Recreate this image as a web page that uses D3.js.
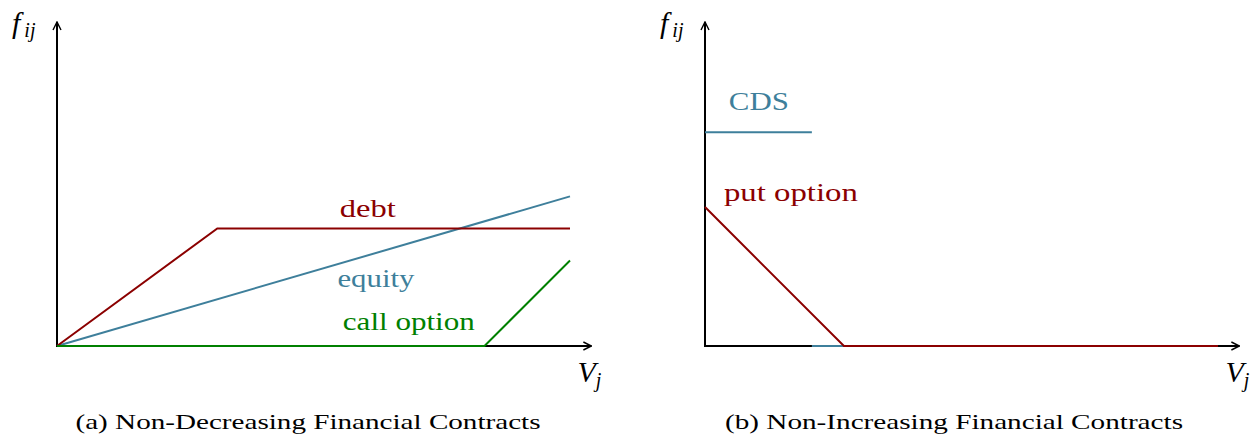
<!DOCTYPE html>
<html>
<head>
<meta charset="utf-8">
<script src="https://cdn.jsdelivr.net/npm/d3@7"></script>
<style>
  body { margin: 0; background: #fff; }
  text { font-family: "Liberation Serif", "DejaVu Serif", serif; }
</style>
</head>
<body>
<script>
// data in chart units (both panels share the same unit)
var debt = [[0, 0], [3.75, 2.75], [12, 2.75]];
var equity = [[0, 0], [12, 3.5]];
var callOption = [[0, 0], [10, 0], [12, 2]];
var cdsTop = [[0, 5], [2.5, 5]];
var cdsBottom = [[2.5, 0], [3.25, 0]];
var putOption = [[0, 3.25], [3.25, 0], [12, 0]];

var labelsA = [{text: "debt", x: 7.27, y: 3.02, color: "#8b0000", w: 56},
               {text: "equity", x: 7.46, y: 1.38, color: "#3e7f9b", w: 77},
               {text: "call option", x: 8.23, y: 0.38, color: "#008000", w: 132}];
var labelsB = [{text: "CDS", x: 1.26, y: 5.52, color: "#3e7f9b", w: 60},
               {text: "put option", x: 2.01, y: 3.4, color: "#8b0000", w: 134}];
var captions = ["(a) Non-Decreasing Financial Contracts", "(b) Non-Increasing Financial Contracts"];

var W = 1254, H = 437;
var unit = 42.75;
var xMax = 12.5, yMax = 7.58;

var svg = d3.select("body").append("svg").attr("width", W).attr("height", H);

var defs = svg.append("defs");
defs.append("marker").attr("id", "arr").attr("viewBox", "0 0 10 10")
  .attr("refX", 9).attr("refY", 5).attr("markerWidth", 10).attr("markerHeight", 10)
  .attr("markerUnits", "userSpaceOnUse").attr("orient", "auto")
  .append("path").attr("d", "M1,1 L9,5 L1,9").attr("fill", "none").attr("stroke", "#000").attr("stroke-width", 1.4);

function panel(ox, series, labels, caption, capX, capW) {
  var x = d3.scaleLinear().domain([0, xMax]).range([ox, ox + xMax * unit]);
  var y = d3.scaleLinear().domain([0, yMax]).range([346, 346 - yMax * unit]);
  var g = svg.append("g");

  // axes
  g.append("line").attr("x1", x(0)).attr("y1", y(0)).attr("x2", x(xMax)).attr("y2", y(0))
    .attr("stroke", "#000").attr("stroke-width", 2).attr("marker-end", "url(#arr)");
  g.append("line").attr("x1", x(0)).attr("y1", y(0) + 1).attr("x2", x(0)).attr("y2", y(yMax))
    .attr("stroke", "#000").attr("stroke-width", 2).attr("marker-end", "url(#arr)");

  var line = d3.line().x(function(d){ return x(d[0]); }).y(function(d){ return y(d[1]); });
  series.forEach(function(s){
    g.append("path").attr("d", line(s.data)).attr("fill", "none")
      .attr("stroke", s.color).attr("stroke-width", 2).attr("stroke-linejoin", "miter");
  });

  labels.forEach(function(l){
    g.append("text").attr("x", x(l.x)).attr("y", y(l.y)).attr("text-anchor", "middle")
      .attr("font-size", 26).attr("fill", l.color)
      .attr("textLength", l.w).attr("lengthAdjust", "spacingAndGlyphs").text(l.text);
  });

  // axis titles
  var fy = g.append("text").attr("x", ox - 45).attr("y", 33).attr("font-size", 30).attr("font-style", "italic");
  fy.append("tspan").text("f");
  fy.append("tspan").attr("font-size", 20).attr("dx", 4).attr("dy", 4).text("ij");
  var vx = g.append("text").attr("x", x(xMax) - 14).attr("y", 382).attr("font-size", 30).attr("font-style", "italic");
  vx.append("tspan").text("V");
  vx.append("tspan").attr("font-size", 20).attr("dx", 0).attr("dy", 5).text("j");

  g.append("text").attr("x", capX).attr("y", 429).attr("text-anchor", "middle")
    .attr("font-size", 22).attr("textLength", capW).attr("lengthAdjust", "spacingAndGlyphs").text(caption);
}

panel(57, [
  {data: equity, color: "#3e7f9b"},
  {data: debt, color: "#8b0000"},
  {data: callOption, color: "#008000"}
], labelsA, captions[0], 308, 465);

panel(705, [
  {data: cdsTop, color: "#3e7f9b"},
  {data: cdsBottom, color: "#3e7f9b"},
  {data: putOption, color: "#8b0000"}
], labelsB, captions[1], 954, 458);
</script>
</body>
</html>
